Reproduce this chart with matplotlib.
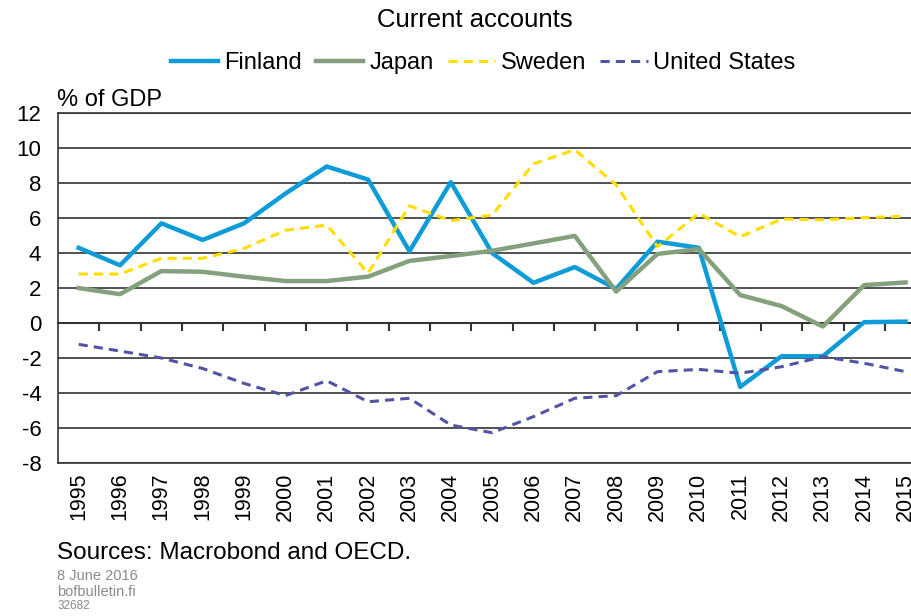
import matplotlib
matplotlib.use('Agg')
import matplotlib.pyplot as plt
import numpy as np

plt.rcParams['font.family'] = ['Liberation Sans', 'DejaVu Sans']
plt.rcParams['axes.unicode_minus'] = False

years = [str(y) for y in range(1995, 2016)]
finland = [4.3, 3.3, 5.7, 4.75, 5.7, 7.4, 8.95, 8.2, 4.1, 8.05, 4.0, 2.3, 3.2, 1.95, 4.65, 4.3, -3.65, -1.9, -1.9, 0.05, 0.08]
japan = [2.0, 1.65, 2.97, 2.93, 2.65, 2.4, 2.4, 2.65, 3.55, 3.83, 4.13, 4.55, 4.98, 1.8, 3.95, 4.23, 1.6, 0.97, -0.2, 2.17, 2.32]
sweden = [2.8, 2.8, 3.7, 3.7, 4.26, 5.3, 5.6, 2.85, 6.7, 5.85, 6.17, 9.1, 9.9, 7.9, 4.36, 6.27, 4.93, 5.94, 5.9, 6.02, 6.11]
usa = [-1.22, -1.6, -2.0, -2.6, -3.45, -4.15, -3.3, -4.5, -4.3, -5.83, -6.27, -5.35, -4.3, -4.15, -2.78, -2.65, -2.87, -2.5, -1.92, -2.3, -2.78]

fig = plt.figure(figsize=(9.12, 6.16), dpi=100)
ax = fig.add_axes([0.0636, 0.2484, 0.952, 0.568])

x = np.arange(len(years))
ax.plot(x, finland, color='#0E9CD8', lw=3.2, label='Finland')
ax.plot(x, japan, color='#84A07C', lw=3.2, label='Japan')
ax.plot(x, sweden, color='#FFDD00', lw=2.2, ls=(0, (3, 2)), label='Sweden')
ax.plot(x, usa, color='#5353A6', lw=2.2, ls=(0, (3, 2)), label='United States')

ax.set_xlim(-0.5, len(years) - 0.5)
ax.set_ylim(-8, 12)
ax.set_yticks(range(-8, 13, 2))
ax.grid(axis='y', color='#333333', lw=1.2)
ax.set_axisbelow(True)
for s in ax.spines.values():
    s.set_color('#333333')
    s.set_linewidth(1.2)
ax.tick_params(axis='y', length=0, labelsize=16, pad=12)
ax.set_xticks(x)
ax.set_xticklabels(years, rotation=90, fontsize=15.5)
ax.tick_params(axis='x', length=0, pad=7)

# zero line with category-boundary ticks
sec = ax.secondary_xaxis(0.4)
sec.set_xticks(np.arange(0.5, len(years) - 1, 1.0))
sec.tick_params(axis='x', direction='out', length=6, width=1.5, color='#333333', labelbottom=False)
sec.spines['bottom'].set_color('#333333')
sec.spines['bottom'].set_linewidth(1.5)

fig.text(0.521, 0.968, 'Current accounts', ha='center', va='center', fontsize=18.5)
fig.legend(loc='center', bbox_to_anchor=(0.53, 0.898), ncol=4, frameon=False,
           fontsize=17, handlelength=2.0, columnspacing=0.6, handletextpad=0.25)
fig.text(0.063, 0.837, '% of GDP', ha='left', va='center', fontsize=17)
fig.text(0.063, 0.103, 'Sources: Macrobond and OECD.', ha='left', va='center', fontsize=17.5)
fig.text(0.063, 0.065, '8 June 2016', ha='left', va='center', fontsize=10.5, color='#8a8a8a')
fig.text(0.063, 0.039, 'bofbulletin.fi', ha='left', va='center', fontsize=10.5, color='#8a8a8a')
fig.text(0.063, 0.016, '32682', ha='left', va='center', fontsize=8.5, color='#8a8a8a')

fig.savefig('out.png', dpi=100)
